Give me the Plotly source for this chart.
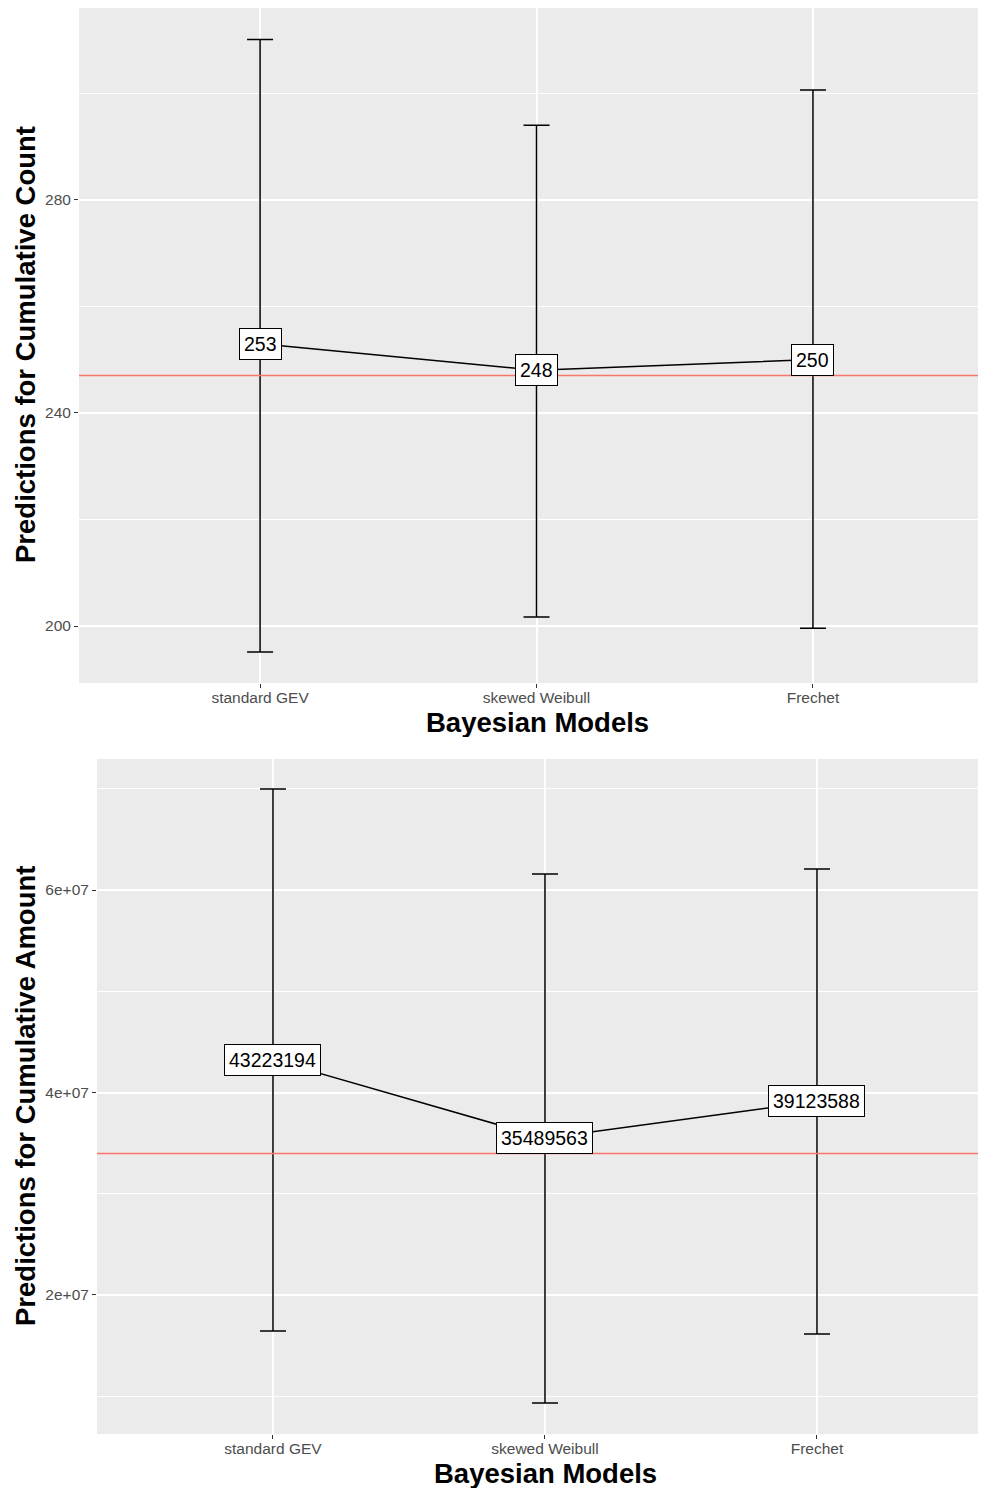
import plotly.graph_objects as go

models = ["standard GEV", "skewed Weibull", "Frechet"]

count_median = [253, 248, 250]
count_lower = [195.1, 201.7, 199.6]
count_upper = [310.1, 294.0, 300.6]
count_observed = 247

amount_median = [43223194, 35489563, 39123588]
amount_lower = [16440000, 9330000, 16150000]
amount_upper = [69980000, 61580000, 62070000]
amount_observed = 33980000

count_ticks = [200, 240, 280]
count_minor = [220, 260, 300]
amount_ticks = [2e7, 4e7, 6e7]
amount_tick_text = ["2e+07", "4e+07", "6e+07"]
amount_minor = [1e7, 3e7, 5e7, 7e7]

# page body has an 8px margin: figure is drawn 8px in from the window edge
OFF = 8
W, H = 986 - 2 * OFF, 1490 - OFF
FONT = "Liberation Sans, Arial, sans-serif"
BG = "#EBEBEB"

fig = go.Figure()

def add_panel(xa, ya, med, lo, hi, obs, labels):
    fig.add_trace(go.Scatter(
        x=models, y=med, xaxis=xa, yaxis=ya, mode="lines",
        line=dict(color="black", width=1.5),
        error_y=dict(type="data", symmetric=False,
                     array=[h - m for h, m in zip(hi, med)],
                     arrayminus=[m - l for m, l in zip(med, lo)],
                     color="black", thickness=1.5, width=13),
        showlegend=False, hoverinfo="skip"))
    for m, v, t in zip(models, med, labels):
        fig.add_annotation(x=m, y=v, xref=xa, yref=ya, text=t, showarrow=False,
                           xanchor="center", yanchor="middle",
                           bgcolor="white", bordercolor="black", borderwidth=1,
                           borderpad=4, font=dict(family=FONT, size=19.5, color="black"))
    fig.add_shape(type="line", xref=f"{xa} domain", yref=ya, x0=0, x1=1, y0=obs, y1=obs,
                  line=dict(color="#F8766D", width=1.5), layer="above")

add_panel("x", "y", count_median, count_lower, count_upper, count_observed,
          [str(v) for v in count_median])
add_panel("x2", "y2", amount_median, amount_lower, amount_upper, amount_observed,
          [str(v) for v in amount_median])

TICKFONT = dict(family=FONT, size=15.5, color="#4D4D4D")

def xaxis(dom, anchor, rng):
    return dict(domain=dom, anchor=anchor, type="category", range=rng,
                showgrid=True, gridcolor="white", gridwidth=1.6, zeroline=False,
                ticks="outside", ticklen=4, tickcolor="#333333", tickwidth=1.2,
                ticklabelstandoff=-4,
                tickfont=TICKFONT, showline=False, fixedrange=True)

def yaxis(dom, anchor, rng, tv, tt, minor):
    return dict(domain=dom, anchor=anchor, range=rng, tickvals=tv, ticktext=tt,
                showgrid=True, gridcolor="white", gridwidth=1.6, zeroline=False,
                ticks="outside", ticklen=4, tickcolor="#333333", tickwidth=1.2,
                tickfont=TICKFONT,
                minor=dict(tickvals=minor, showgrid=True, gridcolor="white",
                           gridwidth=0.7, ticks=""),
                showline=False)

# panel edges in window pixels
top = dict(x0=79, x1=986, y0=7, y1=683)
bot = dict(x0=97, x1=986, y0=759, y1=1434)

def fx(px):
    return min(1.0, max(0.0, (px - OFF) / W))

def fy(py):
    return min(1.0, max(0.0, 1 - (py - OFF) / H))

fig.update_layout(
    width=W, height=H,
    margin=dict(l=0, r=0, t=0, b=0),
    paper_bgcolor="white", plot_bgcolor=BG,
    xaxis=xaxis([fx(top["x0"]), fx(top["x1"])], "y", [-0.655, 2.597]),
    yaxis=yaxis([fy(top["y1"]), fy(top["y0"])], "x", [189.3, 316.0],
                count_ticks, [str(v) for v in count_ticks], count_minor),
    xaxis2=xaxis([fx(bot["x0"]), fx(bot["x1"])], "y2", [-0.647, 2.592]),
    yaxis2=yaxis([fy(bot["y1"]), fy(bot["y0"])], "x2", [6.27e6, 7.294e7],
                 amount_ticks, amount_tick_text, amount_minor),
    showlegend=False,
)

# axis titles
TF = dict(family=FONT, size=27.5, color="black")
def title(x, y, text, angle=0, h=None):
    fig.add_annotation(x=fx(x), y=fy(y), xref="paper", yref="paper",
                       xanchor="center", yanchor="middle", textangle=angle,
                       height=h, valign="middle",
                       text=f"<b>{text}</b>", showarrow=False, font=TF)

title(537, 722, "Bayesian Models", h=30)
title(545, 1473, "Bayesian Models", h=30)
title(25, 345, "Predictions for Cumulative Count", -90)
title(25, 1096, "Predictions for Cumulative Amount", -90)

fig.write_html("out.html")
